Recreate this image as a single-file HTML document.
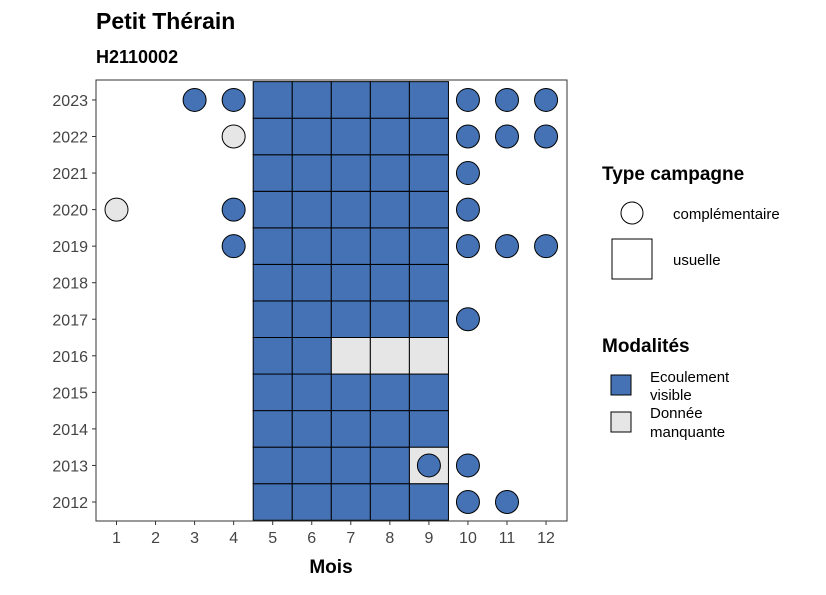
<!DOCTYPE html>
<html><head><meta charset="utf-8"><style>
body{margin:0;background:#fff;font-family:"Liberation Sans",sans-serif}
</style></head><body>
<svg id="chart" width="826" height="590" xmlns="http://www.w3.org/2000/svg" font-family="Liberation Sans, sans-serif">
<text x="96" y="29" font-size="23" font-weight="bold">Petit Thérain</text>
<text x="96" y="63" font-size="18" font-weight="bold">H2110002</text>
<g id="marks"></g>
<rect x="96" y="80" width="471" height="441" fill="none" stroke="#333" stroke-width="1"/>
<g id="axes"></g>
<text x="331" y="573" font-size="19" font-weight="bold" text-anchor="middle">Mois</text>
<g>
<text x="602" y="180" font-size="19" font-weight="bold">Type campagne</text>
<circle cx="632" cy="213" r="11" fill="#fff" stroke="#000"/>
<text x="673" y="219" font-size="15">complémentaire</text>
<rect x="612" y="239" width="40" height="40" fill="#fff" stroke="#000"/>
<text x="673" y="265" font-size="15">usuelle</text>
</g>
<g>
<text x="602" y="352" font-size="19" font-weight="bold">Modalités</text>
<rect x="611" y="375" width="20" height="20" fill="#4472b4" stroke="#000"/>
<text x="650" y="382" font-size="15">Ecoulement</text><text x="650" y="400" font-size="15">visible</text>
<rect x="611" y="412" width="20" height="20" fill="#e6e6e6" stroke="#000"/>
<text x="650" y="418" font-size="15">Donnée</text><text x="650" y="437" font-size="15">manquante</text>
</g>
</svg>
<script>
const months=[1,2,3,4,5,6,7,8,9,10,11,12];
const years=[2012,2013,2014,2015,2016,2017,2018,2019,2020,2021,2022,2023];
const squareYears=[2012,2012,2012,2012,2012,2013,2013,2013,2013,2013,2014,2014,2014,2014,2014,2015,2015,2015,2015,2015,2016,2016,2016,2016,2016,2017,2017,2017,2017,2017,2018,2018,2018,2018,2018,2019,2019,2019,2019,2019,2020,2020,2020,2020,2020,2021,2021,2021,2021,2021,2022,2022,2022,2022,2022,2023,2023,2023,2023,2023];
const squareMonths=[5,6,7,8,9,5,6,7,8,9,5,6,7,8,9,5,6,7,8,9,5,6,7,8,9,5,6,7,8,9,5,6,7,8,9,5,6,7,8,9,5,6,7,8,9,5,6,7,8,9,5,6,7,8,9,5,6,7,8,9];
const squareStatus=[1,1,1,1,1,1,1,1,1,0,1,1,1,1,1,1,1,1,1,1,1,1,0,0,0,1,1,1,1,1,1,1,1,1,1,1,1,1,1,1,1,1,1,1,1,1,1,1,1,1,1,1,1,1,1,1,1,1,1,1];
const circleYears=[2023,2023,2023,2023,2023,2022,2022,2022,2022,2021,2020,2020,2020,2019,2019,2019,2019,2017,2013,2013,2012,2012];
const circleMonths=[3,4,10,11,12,4,10,11,12,10,1,4,10,4,10,11,12,10,9,10,10,11];
const circleStatus=[1,1,1,1,1,0,1,1,1,1,0,1,1,1,1,1,1,1,1,1,1,1];
const NS="http://www.w3.org/2000/svg";
const x=m=>116.5+(m-1)*39.05;
const y=yr=>502-(yr-2012)*36.55;
const col=s=>s?"#4472b4":"#e6e6e6";
const marks=document.getElementById('marks'),axes=document.getElementById('axes');
function mk(t,a,p){const e=document.createElementNS(NS,t);for(const k in a)e.setAttribute(k,a[k]);p.appendChild(e);return e;}
squareYears.forEach((yr,i)=>{
 const r=mk('rect',{x:x(squareMonths[i])-19.5,y:y(yr)-18.3,width:39.05,height:36.55,fill:col(squareStatus[i]),stroke:'#000','stroke-width':1},marks);
 
 
});
circleYears.forEach((yr,i)=>{
 const c=mk('circle',{cx:x(circleMonths[i]),cy:y(yr),r:11.5,fill:col(circleStatus[i]),stroke:'#000','stroke-width':1},marks);
 
 
});
months.forEach(m=>{
 mk('line',{x1:x(m),x2:x(m),y1:521,y2:525,stroke:'#333'},axes);
 const t=mk('text',{x:x(m),y:543,'font-size':16,fill:'#444','text-anchor':'middle'},axes);
 t.textContent=m;
 
 
});
years.forEach(yr=>{
 mk('line',{x1:92,x2:96,y1:y(yr),y2:y(yr),stroke:'#333'},axes);
 const t=mk('text',{x:88,y:y(yr)+6,'font-size':16,fill:'#444','text-anchor':'end'},axes);
 t.textContent=yr;
 
 
});
</script>
</body></html>
